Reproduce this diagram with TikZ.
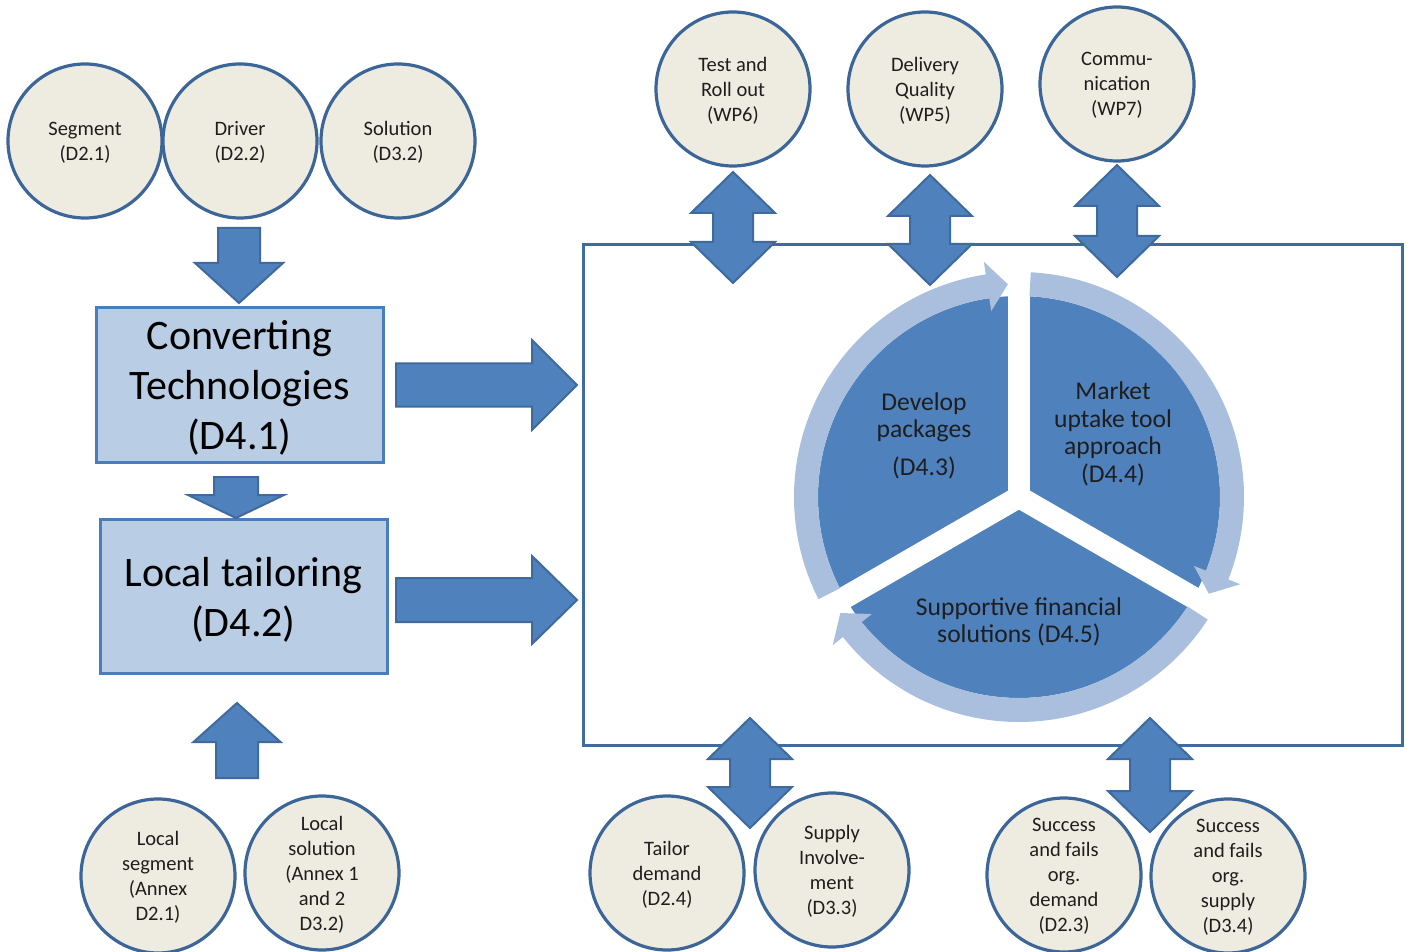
\documentclass[tikz,border=0pt]{standalone}
\usepackage{fontspec}
\setmainfont{Carlito}
\usetikzlibrary{calc,shapes.geometric}

\definecolor{barrowfill}{HTML}{4F81BD}
\definecolor{barrowline}{HTML}{3E6A9E}
\definecolor{discfill}{HTML}{EEECE1}
\definecolor{discline}{HTML}{3D6698}
\definecolor{boxfill}{HTML}{B9CDE5}
\definecolor{boxline}{HTML}{4A7EBB}
\definecolor{hubline}{HTML}{3F6C9F}
\definecolor{piefill}{HTML}{4F81BD}
\definecolor{ringfill}{HTML}{A9BFDD}
\definecolor{inktext}{HTML}{1E1E1E}

\tikzset{
  % ba={shaft half width}{head half width}{head length}
  ba/.code n args={3}{\def\bas{#1}\def\bah{#2}\def\bal{#3}},
  blockarrow/.style={fill=barrowfill, draw=barrowline, line width=1pt,
    to path={
      ($(\tikztostart)!\bas!90:(\tikztotarget)$) --
      ($(\tikztotarget)!\bal!(\tikztostart)!\bas!-90:(\tikztostart)$) --
      ($(\tikztotarget)!\bal!(\tikztostart)!\bah!-90:(\tikztostart)$) --
      (\tikztotarget) --
      ($(\tikztotarget)!\bal!(\tikztostart)!\bah!90:(\tikztostart)$) --
      ($(\tikztotarget)!\bal!(\tikztostart)!\bas!90:(\tikztostart)$) --
      ($(\tikztostart)!\bas!-90:(\tikztotarget)$) -- cycle}},
  dblockarrow/.style={fill=barrowfill, draw=barrowline, line width=1pt,
    to path={
      (\tikztostart) --
      ($(\tikztostart)!\bal!(\tikztotarget)!\bah!90:(\tikztotarget)$) --
      ($(\tikztostart)!\bal!(\tikztotarget)!\bas!90:(\tikztotarget)$) --
      ($(\tikztotarget)!\bal!(\tikztostart)!\bas!-90:(\tikztostart)$) --
      ($(\tikztotarget)!\bal!(\tikztostart)!\bah!-90:(\tikztostart)$) --
      (\tikztotarget) --
      ($(\tikztotarget)!\bal!(\tikztostart)!\bah!90:(\tikztostart)$) --
      ($(\tikztotarget)!\bal!(\tikztostart)!\bas!90:(\tikztostart)$) --
      ($(\tikztostart)!\bal!(\tikztotarget)!\bas!-90:(\tikztotarget)$) --
      ($(\tikztostart)!\bal!(\tikztotarget)!\bah!-90:(\tikztotarget)$) -- cycle}},
  disc/.style={circle, draw=discline, fill=discfill, line width=1.6pt,
    minimum size=77pt, inner sep=0pt, align=center, text=inktext, text depth=0pt,
    font=\fontsize{10.25}{12.5}\selectfont},
  procbox/.style={rectangle, draw=boxline, fill=boxfill, line width=1.5pt,
    minimum width=143.5pt, minimum height=77pt, inner sep=0pt, align=center,
    text=black, text depth=0pt, font=\fontsize{21}{25}\selectfont},
  pietext/.style={align=center, text=inktext, text depth=0pt,
    font=\fontsize{12.8}{13.8}\selectfont},
}

\begin{document}
\begin{tikzpicture}[x=0.5pt, y=-0.5pt]
\useasboundingbox (0,0) rectangle (1409,952);

% central work area
\node[draw=hubline, line width=1.5pt, minimum width=409.5pt, minimum height=250pt,
      inner sep=0pt] (hub) at (992.5,495) {};

% input circles, top left
\node[disc] (seg) at (85,141)  {Segment\\(D2.1)};
\node[disc] (drv) at (240,141) {Driver\\(D2.2)};
\node[disc] (sol) at (398,141) {Solution\\(D3.2)};

% local input circles, bottom left
\node[disc] (lseg) at (158,876) {Local\\segment\\(Annex\\D2.1)};
\node[disc] (lsol) at (322,873) {Local\\solution\\(Annex 1\\and 2\\D3.2)};

% process boxes
\node[procbox] (conv) at (239.5,385) {Converting\\Technologies\\(D4.1)};
\node[procbox] (tail) at (243.5,596.5) {Local tailoring\\(D4.2)};

% work packages above the work area
\node[disc] (wp6) at (733,89)  {Test and\\Roll out\\(WP6)};
\node[disc] (wp5) at (925,89)  {Delivery\\Quality\\(WP5)};
\node[disc] (wp7) at (1117,84) {Commu-\\nication\\(WP7)};

% deliverables below the work area
\node[disc] (tdem) at (667,873)  {Tailor\\demand\\(D2.4)};
\node[disc] (sinv) at (832,870)  {Supply\\Involve-\\ment\\(D3.3)};
\node[disc] (sfd)  at (1064,875) {Success\\and fails\\org.\\demand\\(D2.3)};
\node[disc] (sfs)  at (1228,876) {Success\\and fails\\org.\\supply\\(D3.4)};

% segmented cycle
\begin{scope}[shift={(1019,497)}]
  \fill[piefill] (0,0) circle[radius=201];
  \foreach \g in {90,210,330}
    \draw[white, line width=11pt] (0,0) -- (-\g:226);
  \foreach \pa/\pt in {-207/-93, -87/27, 33/147} {
    \pgfmathsetmacro\pb{\pt-5.5}
    \fill[ringfill] (\pa:225) arc[start angle=\pa, end angle=\pb, radius=225]
      -- (\pb:238) -- (\pt:213) -- (\pb:188) -- (\pb:201)
      arc[start angle=\pb, end angle=\pa, radius=201] -- cycle;
  }
\end{scope}
\node[pietext] (dev) at (924,434)  {Develop\\packages\\[5pt](D4.3)};
\node[pietext] (mkt) at (1113,432) {Market\\uptake tool\\approach\\(D4.4)};
\node[pietext] (fin) at (1019,620) {Supportive financial\\solutions (D4.5)};

% arrow end points
\coordinate (a1s) at (239,228);  \coordinate (a1e) at (239,303);
\coordinate (a2s) at (236,477);  \coordinate (a2e) at (236,518);
\coordinate (a3s) at (396,385);  \coordinate (a3e) at (577,385);
\coordinate (a4s) at (396,600);  \coordinate (a4e) at (577,600);
\coordinate (a5s) at (237,778);  \coordinate (a5e) at (237,703);
\coordinate (t1a) at (733,172);  \coordinate (t1b) at (733,283);
\coordinate (t2a) at (930,175);  \coordinate (t2b) at (930,285);
\coordinate (t3a) at (1117,165); \coordinate (t3b) at (1117,277);
\coordinate (b1a) at (750,718);  \coordinate (b1b) at (750,828);
\coordinate (b2a) at (1150,718); \coordinate (b2b) at (1150,832);

% one-way block arrows
\draw[blockarrow, ba={10.5pt}{22pt}{20pt}]      (a1s) to (a1e);
\draw[blockarrow, ba={11pt}{24pt}{11.5pt}]      (a2s) to (a2e);
\draw[blockarrow, ba={10.75pt}{22.5pt}{22.5pt}] (a3s) to (a3e);
\draw[blockarrow, ba={11pt}{22pt}{22.5pt}]      (a4s) to (a4e);
\draw[blockarrow, ba={10.5pt}{21.75pt}{19.5pt}] (a5s) to (a5e);

% two-way block arrows
\foreach \p/\q in {t1a/t1b, t2a/t2b, t3a/t3b, b1a/b1b, b2a/b2b}
  \draw[dblockarrow, ba={10pt}{21pt}{20.5pt}] (\p) to (\q);
\end{tikzpicture}
\end{document}
